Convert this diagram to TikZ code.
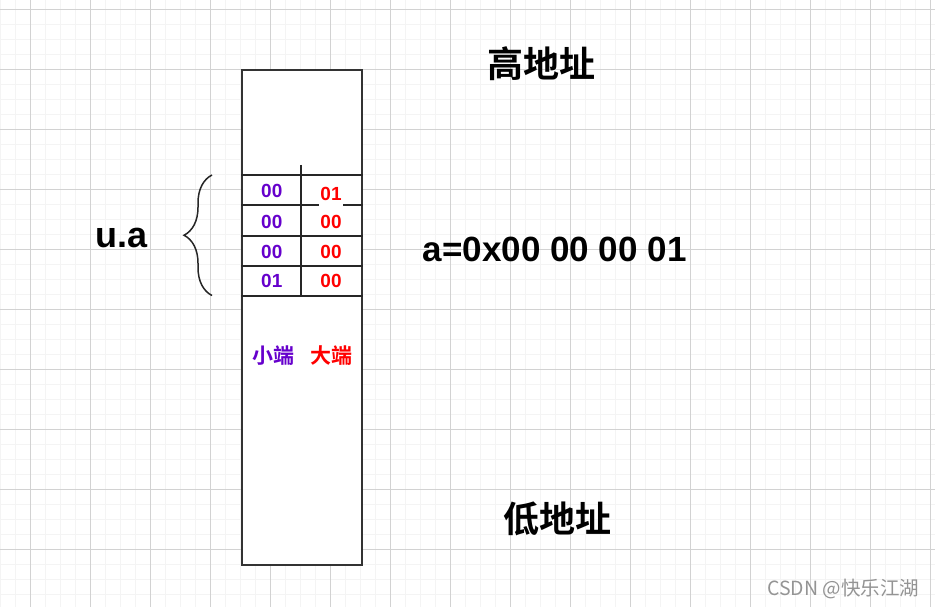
\documentclass[tikz,border=0pt]{standalone}
\usepackage{fontspec}
\setmainfont{Liberation Sans}
\newfontfamily\cjkfont{Noto Sans CJK SC}[BoldFont={Noto Sans CJK SC Bold}]
\usetikzlibrary{decorations.pathreplacing}
\definecolor{lePurple}{RGB}{102,0,204}
\definecolor{beRed}{RGB}{255,0,0}
\definecolor{gridMajor}{RGB}{210,210,210}
\definecolor{gridMinor}{RGB}{244,244,244}

\begin{document}
\begin{tikzpicture}
[x=1pt,y=-1pt,%
  minorLine/.style={gridMinor,line width=1pt},%
  majorLine/.style={gridMajor,line width=1pt},%
  memBox/.style={draw=black!80,fill=white,line width=1.8pt,minimum width=120pt,minimum height=494.7pt,inner sep=0pt},%
  cellLine/.style={black!85,line width=2pt},%
  braceLine/.style={decorate,decoration={brace,amplitude=28pt},black!85,line width=1.5pt},%
  byteNode/.style={font=\bfseries\fontsize{19}{19}\selectfont,inner sep=1pt,anchor=base},%
  endNode/.style={font=\cjkfont\bfseries\fontsize{21}{21}\selectfont,inner sep=0pt},%
  addrNode/.style={font=\cjkfont\bfseries\fontsize{36}{36}\selectfont,inner sep=0pt},%
  bigNode/.style={font=\bfseries\fontsize{35}{35}\selectfont,inner sep=0pt,anchor=base}]
\useasboundingbox (0,0) rectangle (935,607);
%% background grid
\fill[white] (0,0) rectangle (935,607);
\foreach \x in {0,15,...,930} \draw[minorLine] (\x,0) -- (\x,607);
\foreach \y in {9.5,24.5,...,607} \draw[minorLine] (0,\y) -- (935,\y);
\foreach \x in {30,90,...,930} \draw[majorLine] (\x,0) -- (\x,607);
\foreach \y in {9.5,69.5,...,607} \draw[majorLine] (0,\y) -- (935,\y);
%% memory block and its cells
\node[memBox] (mem) at (301.7,317.6) {};
\foreach \i/\y in {1/175,2/205,3/235.5,4/265.5,5/295.5}
{
  \coordinate (row\i) at (301.7,\y);
  \draw[cellLine] (mem.west |- row\i) -- (mem.east |- row\i);
}
\coordinate (divTop) at (301,165);
\draw[cellLine] (divTop) -- (divTop |- row5);
%% bytes: little endian left, big endian right
\foreach \name/\x/\y/\txt/\col in {
  le1/271.8/197.2/00/lePurple, le2/271.8/228.2/00/lePurple,
  le3/271.8/258.2/00/lePurple, le4/271.8/287.7/01/lePurple,
  be2/331/228.2/00/beRed, be3/331/258.2/00/beRed, be4/331/287.7/00/beRed}
{
  \node[byteNode,text=\col] (\name) at (\x,\y) {\txt};
}
\node[byteNode,text=beRed,fill=white,inner ysep=6pt] (be1) at (331,200.5) {01};
\node[endNode,text=lePurple] (little) at (273,356) {小端};
\node[endNode,text=beRed] (big) at (331,356) {大端};
%% brace for the union
\coordinate (braceLow) at (212,295.5);
\coordinate (braceHigh) at (212,175);
\draw[braceLine] (braceLow) -- (braceHigh);
\node[bigNode,font=\bfseries\fontsize{36}{36}\selectfont] (ua) at (121.5,247.3) {u.a};
%% value and address labels
\node[bigNode] (val) at (554.7,261.7) {a=0x00 00 00 01};
\node[addrNode] (high) at (541,63.3) {高地址};
\node[addrNode] (low) at (557.5,519) {低地址};
\node[font=\cjkfont\fontsize{19.5}{19.5}\selectfont,text=black!42,inner sep=0pt] (mark) at (843.3,588.7) {CSDN @快乐江湖};
\end{tikzpicture}
\end{document}
